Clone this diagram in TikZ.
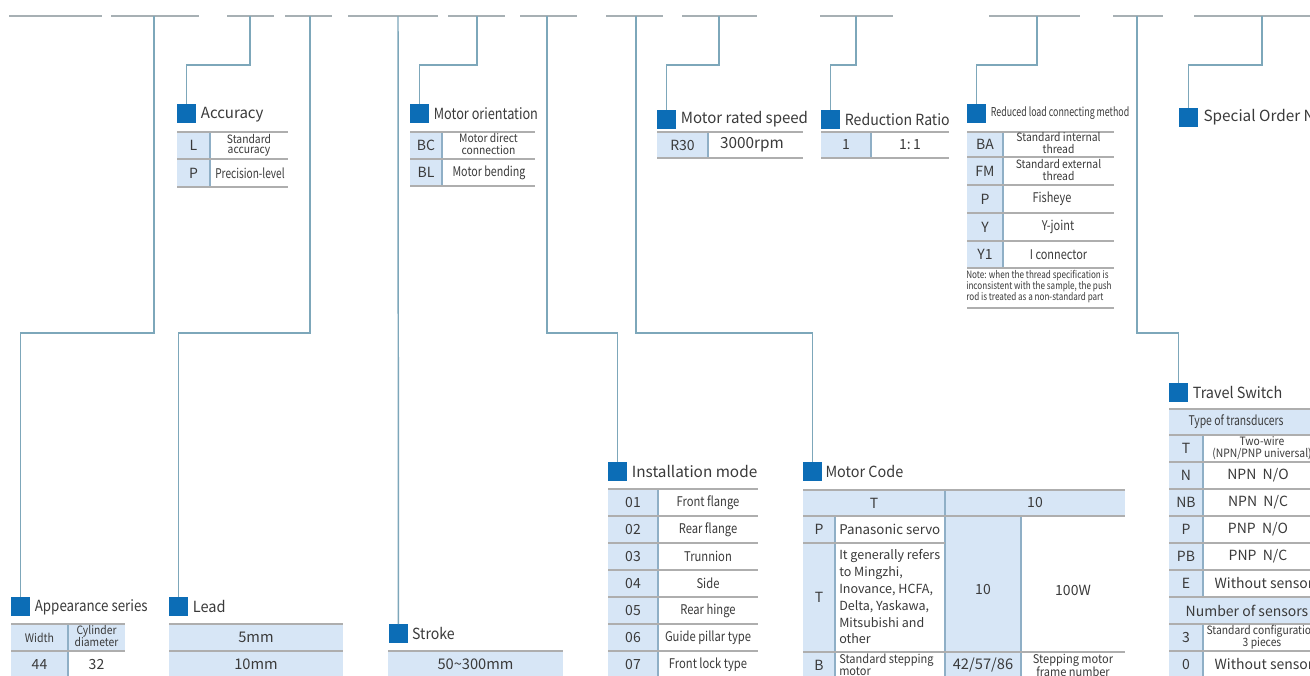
\documentclass[tikz,border=0pt]{standalone}
\usepackage{fontspec}
\setmainfont{Noto Sans CJK SC}
\usepackage{graphicx}
\definecolor{conn}{HTML}{7DA7BA}
\definecolor{seg}{HTML}{A7B0B4}
\definecolor{bbox}{HTML}{0C6DB6}
\definecolor{lb}{HTML}{D7E6F6}
\definecolor{hrule}{HTML}{AEAEAE}
\definecolor{vrule}{HTML}{8FAFC6}
\definecolor{txt}{HTML}{3A3A3A}
\newcommand\sq[2]{\scalebox{#1}[1]{#2}}
\newcommand\tw[3][0.9]{\scalebox{#1}[1]{\begin{tabular}{@{}c@{}}#2\\#3\end{tabular}}}
\begin{document}
\begin{tikzpicture}[x=0.75pt,y=-0.75pt,
 conn/.style={draw=conn,line width=1.1pt},
 seg/.style={draw=seg,line width=1.5pt},
 hr/.style={draw=hrule,line width=1.3pt},
 vr/.style={draw=vrule,line width=0.8pt},
 bsq/.style={fill=bbox,draw=none,minimum size=13.8pt,inner sep=0pt,anchor=north west},
 ttl/.style={anchor=west,inner sep=0pt,text=txt,font=\fontsize{11.5}{13}\selectfont},
 cell/.style={inner sep=0pt,text=txt,font=\fontsize{10.5}{12}\selectfont},
 small/.style={inner sep=0pt,text=txt,font=\fontsize{8.6}{7}\selectfont},
 mid/.style={inner sep=0pt,text=txt,font=\fontsize{10}{11}\selectfont},
]
\fill[white] (0,0) rectangle (1310,675);
\useasboundingbox (0,0) rectangle (1310,675);
\clip (0,0) rectangle (1310,675);

% top segments
\foreach \a/\b in {9/102,111/199,227/274,285/332,348/438,448/505,520/577,606/663,682/757,820/893,989/1080,1113/1163,1194/1320}
  \draw[seg] (\a,16) -- (\b,16);
\coordinate (t1) at (154,16);
\coordinate (t2) at (250,16);
\coordinate (t3) at (310,16);
\coordinate (t4) at (398,16);
\coordinate (t5) at (477,16);
\coordinate (t6) at (547,16);
\coordinate (t7) at (636,16);
\coordinate (t8) at (719,16);
\coordinate (t9) at (856,16);
\coordinate (t10) at (1037,16);
\coordinate (t11) at (1137,16);
\coordinate (t12) at (1262,16);

% blue squares
\node[bsq] (acc) at (177,104) {};
\node[bsq] (mo) at (410,104) {};
\node[bsq] (mrs) at (657,110) {};
\node[bsq] (rr) at (821,110) {};
\node[bsq] (rl) at (967,104) {};
\node[bsq] (so) at (1179,108) {};
\node[bsq] (as) at (11,597) {};
\node[bsq] (lead) at (169,597) {};
\node[bsq] (st) at (389,624) {};
\node[bsq] (im) at (608,462) {};
\node[bsq] (mc) at (803,462) {};
\node[bsq] (ts) at (1169,383) {};

% connectors
\draw[conn] (t1) -- (154,333) -| (as.north);
\draw[conn] (t2) -- (250,65) -| (acc.north);
\draw[conn] (t3) -- (310,333) -| (lead.north);
\draw[conn] (t4) -- (st.north);
\draw[conn] (t5) -- (477,65) -| (mo.north);
\draw[conn] (t6) -- (547,333) -| (im.north);
\draw[conn] (t7) -- (636,333) -| (mc.north);
\draw[conn] (t8) -- (719,65) -| (mrs.north);
\draw[conn] (t9) -- (856,65) -| (rr.north);
\draw[conn] (t10) -- (1037,65) -| (rl.north);
\draw[conn] (t11) -- (1137,333) -| (ts.north);
\draw[conn] (t12) -- (1262,65) -| (so.north);

% titles
\node[ttl] (acct) at ([xshift=3.5pt,yshift=-1pt]acc.east) {\sq{0.98}{Accuracy}};
\node[ttl] (mot) at ([xshift=3.5pt,yshift=-0.5pt]mo.east) {\sq{0.83}{Motor orientation}};
\node[ttl] (mrst) at ([xshift=3.5pt]mrs.east) {\sq{0.98}{Motor rated speed}};
\node[ttl] (rrt) at ([xshift=3.5pt]rr.east) {\sq{0.92}{Reduction Ratio}};
\node[ttl,font=\fontsize{9.2}{11}\selectfont] (rlt) at ([xshift=3.5pt]rl.east) {\sq{0.72}{Reduced load connecting method}};
\node[ttl] (sot) at ([xshift=4pt]so.east) {Special Order No.};
\node[ttl] (ast) at ([xshift=3.5pt,yshift=-0.5pt]as.east) {\sq{0.87}{Appearance series}};
\node[ttl] (leadt) at ([xshift=3.5pt]lead.east) {\sq{0.95}{Lead}};
\node[ttl] (stt) at ([xshift=3pt]st.east) {\sq{0.92}{Stroke}};
\node[ttl] (imt) at ([xshift=3.5pt]im.east) {Installation mode};
\node[ttl] (mct) at ([xshift=2.5pt]mc.east) {\sq{0.94}{Motor Code}};
\node[ttl] (tst) at ([xshift=3.5pt]ts.east) {\sq{0.94}{Travel Switch}};

% ---- Accuracy table
\fill[lb] (177,132) rectangle (210,187);
\draw[vr] (210,132) -- (210,187);
\foreach \y in {132,159,187} \draw[hr] (177,\y) -- (288,\y);
\node[cell] (a1) at (193.5,145.5) {L};
\node[small] (a2) at (249,145.5) {\tw{Standard}{accuracy}};
\node[cell] (a3) at (193.5,173) {P};
\node[mid] (a4) at (250,173) {\sq{0.76}{Precision-level}};

% ---- Motor orientation table
\fill[lb] (410,132) rectangle (442,186);
\draw[vr] (442,132) -- (442,186);
\foreach \y in {132,159,186} \draw[hr] (410,\y) -- (535,\y);
\node[cell] (o1) at (426,145.5) {BC};
\node[small] (o2) at (488.5,145.5) {\tw{Motor direct}{connection}};
\node[cell] (o3) at (426,172.5) {BL};
\node[mid] (o4) at (489,172.5) {\sq{0.8}{Motor bending}};

% ---- Motor rated speed table
\fill[lb] (657,132) rectangle (708,158);
\draw[vr] (708,132) -- (708,158);
\foreach \y in {132,158} \draw[hr] (657,\y) -- (803,\y);
\node[cell] (r1) at (682.5,145) {R30};
\node[cell,font=\fontsize{11.5}{12}\selectfont] (r2) at (752,145) {3000rpm};

% ---- Reduction ratio table
\fill[lb] (821,132) rectangle (871,158);
\draw[vr] (871,132) -- (871,158);
\foreach \y in {132,158} \draw[hr] (821,\y) -- (949,\y);
\node[cell] (q1) at (846,145) {1};
\node[cell] (q2) at (910,145) {1:\,1};

% ---- Reduced load table
\fill[lb] (967,132) rectangle (1003,268);
\draw[vr] (1003,132) -- (1003,268);
\foreach \y in {132,157,185,213,241,268} \draw[hr] (967,\y) -- (1114,\y);
\draw[hr] (967,308) -- (1114,308);
\node[cell] (l1) at (985,144.5) {BA};
\node[small] (l2) at (1058.5,144.5) {\tw{Standard internal}{thread}};
\node[cell] (l3) at (985,171) {FM};
\node[small] (l4) at (1058.5,171) {\tw{Standard external}{thread}};
\node[cell] (l5) at (985,199) {P};
\node[mid] (l6) at (1052,199) {\sq{0.82}{Fisheye}};
\node[cell] (l7) at (985,227) {Y};
\node[mid] (l8) at (1058,227) {\sq{0.82}{Y-joint}};
\node[cell] (l9) at (985,254.5) {Y1};
\node[mid] (l10) at (1058.5,254.5) {\sq{0.82}{I connector}};
\node[inner sep=0pt,anchor=north west,text=txt,font=\fontsize{7.6}{6.8}\selectfont] (note) at (966,270)
  {\scalebox{0.8}[1]{\begin{tabular}{@{}l@{}}Note: when the thread specification is\\inconsistent with the sample, the push\\rod is treated as a non-standard part\end{tabular}}};

% ---- Appearance series table
\fill[lb] (11,624) rectangle (125,651);
\fill[lb] (11,651) rectangle (68,678);
\draw[vr] (68,624) -- (68,678);
\foreach \y in {624,651,678} \draw[hr] (11,\y) -- (125,\y);
\node[mid,font=\fontsize{8.8}{10}\selectfont] (p1) at (39.5,637.5) {\sq{0.9}{Width}};
\node[small] (p2) at (96.5,637.5) {\tw{Cylinder}{diameter}};
\node[cell] (p3) at (39.5,664) {44};
\node[cell] (p4) at (96.5,664) {32};

% ---- Lead table
\fill[lb] (169,624) rectangle (343,678);
\foreach \y in {624,651,678} \draw[hr] (169,\y) -- (343,\y);
\node[cell,font=\fontsize{11}{12}\selectfont] (d1) at (256,637.5) {5mm};
\node[cell,font=\fontsize{11}{12}\selectfont] (d2) at (256,664) {10mm};

% ---- Stroke table
\fill[lb] (388,651) rectangle (563,678);
\draw[hr] (388,651) -- (563,651);
\node[cell,font=\fontsize{11}{12}\selectfont] (s1) at (475.5,664) {50\textasciitilde300mm};

% ---- Installation mode table
\fill[lb] (608,489) rectangle (658,678);
\draw[vr] (658,489) -- (658,678);
\foreach \y in {489,516,543,570,597,624,651,678} \draw[hr] (608,\y) -- (758,\y);
\foreach \n/\t/\y in {i1/01/502.5,i2/02/529.5,i3/03/556.5,i4/04/583.5,i5/05/610.5,i6/06/637.5,i7/07/664.5}
  \node[cell] (\n) at (633,\y) {\t};
\foreach \n/\t/\y in {j1/Front flange/502.5,j2/Rear flange/529.5,j3/Trunnion/556.5,j4/Side/583.5,j5/Rear hinge/610.5,j6/Guide pillar type/637.5,j7/Front lock type/664.5}
  \node[mid] (\n) at (708,\y) {\sq{0.84}{\t}};

% ---- Motor code table
\fill[lb] (803,490) rectangle (1125,516);
\fill[lb] (803,516) rectangle (835,678);
\fill[lb] (945,516) rectangle (1021,678);
\draw[vr] (835,516) -- (835,678);
\draw[vr] (945,490) -- (945,678);
\draw[vr] (1021,516) -- (1021,678);
\draw[hr] (803,490) -- (1125,490);
\draw[hr] (803,516) -- (1125,516);
\draw[hr] (803,543) -- (945,543);
\draw[hr] (803,652) -- (1125,652);
\node[cell] (m1) at (874,503) {T};
\node[cell] (m2) at (1035,503) {10};
\node[cell] (m3) at (819,529.5) {P};
\node[cell,anchor=west,font=\fontsize{10}{12}\selectfont] (m4) at (839,529.5) {Panasonic servo};
\node[cell] (m5) at (819,597) {T};
\node[cell,anchor=west,align=left,font=\fontsize{9.4}{12.6}\selectfont] (m6) at (839,597)
  {It generally refers\\to Mingzhi,\\Inovance, HCFA,\\Delta, Yaskawa,\\Mitsubishi and\\other};
\node[cell] (m7) at (983,590) {10};
\node[cell] (m8) at (1073,590) {100W};
\node[cell] (m9) at (819,665) {B};
\node[small,anchor=north west,font=\fontsize{9}{7.4}\selectfont] (m10) at (839,654)
  {\scalebox{0.92}[1]{\begin{tabular}{@{}l@{}}Standard stepping\\motor\end{tabular}}};
\node[cell,font=\fontsize{11}{12}\selectfont] (m11) at (983,665) {42/57/86};
\node[small,anchor=north,font=\fontsize{9}{7.4}\selectfont] (m12) at (1073,654)
  {\scalebox{0.92}[1]{\begin{tabular}{@{}c@{}}Stepping motor\\frame number\end{tabular}}};

% ---- Travel switch table
\fill[lb] (1169,409) rectangle (1325,435);
\fill[lb] (1169,435) rectangle (1203,597);
\fill[lb] (1169,597) rectangle (1325,624);
\fill[lb] (1169,624) rectangle (1203,678);
\draw[vr] (1203,435) -- (1203,597);
\draw[vr] (1203,624) -- (1203,678);
\foreach \y in {409,435,462,489,516,543,570,597,624,651,678} \draw[hr] (1169,\y) -- (1325,\y);
\node[mid] (w0) at (1236,422) {\sq{0.78}{Type of transducers}};
\node[cell] (w1) at (1186,448.5) {T};
\node[small] (w2) at (1262,448.5) {\tw{Two-wire}{(NPN/PNP universal)}};
\foreach \n/\a/\b/\y in {w3/N/NPN\ \ N\slash O/475.5,w4/NB/NPN\ \ N\slash C/502.5,w5/P/PNP\ \ N\slash O/529.5,w6/PB/PNP\ \ N\slash C/556.5}{
  \node[cell] (\n a) at (1186,\y) {\a};
  \node[cell] (\n b) at (1258,\y) {\b};}
\node[cell] (w7a) at (1186,583.5) {E};
\node[cell] (w7b) at (1264,583.5) {Without sensor};
\node[cell] (w8) at (1247,610.5) {Number of sensors};
\node[cell] (w9) at (1186,637.5) {3};
\node[small] (w10) at (1262,637.5) {\tw{Standard configuration}{3 pieces}};
\node[cell] (w11) at (1186,664.5) {0};
\node[cell] (w12) at (1264,664.5) {Without sensor};
\end{tikzpicture}
\end{document}
